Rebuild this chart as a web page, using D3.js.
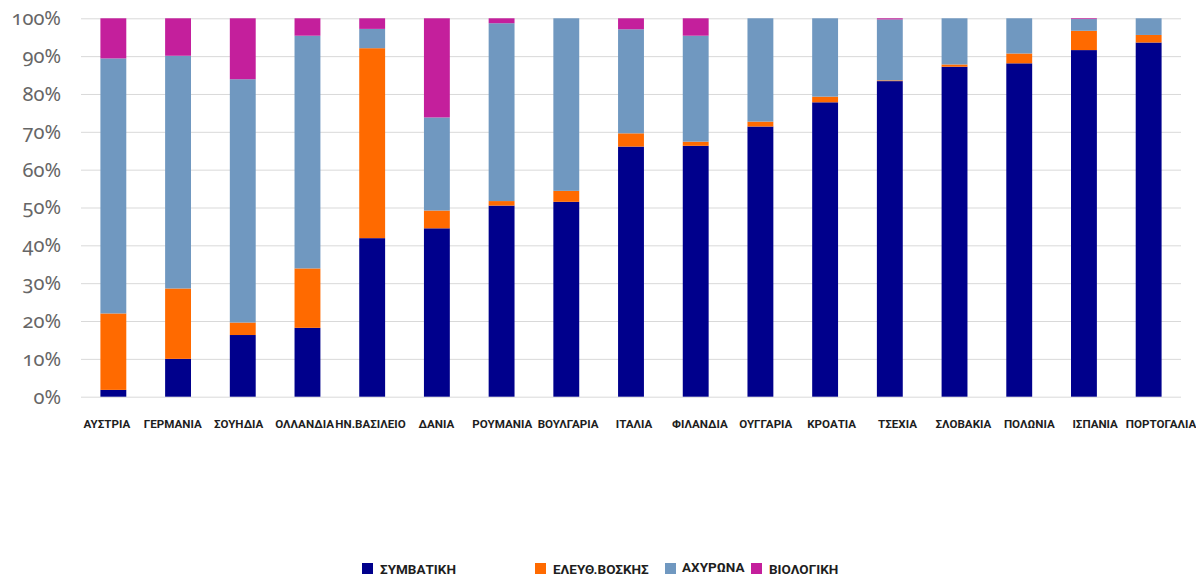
<!DOCTYPE html>
<html>
<head>
<meta charset="utf-8">
<script src="https://cdn.jsdelivr.net/npm/d3@7"></script>
<style>
  html, body { margin: 0; padding: 0; background: #ffffff; }
  svg { display: block; }
  .ylab { font-family: "Noto Sans", sans-serif; font-size: 20px; fill: #666666; font-feature-settings: "onum"; font-variant-numeric: oldstyle-nums; }
  .xlab { font-family: Roboto, "Liberation Sans", sans-serif; font-weight: bold; font-size: 11.6px; fill: #1e1e1e; }
  .leg { font-family: Roboto, "Liberation Sans", sans-serif; font-weight: bold; font-size: 13.5px; fill: #1e1e1e; }
</style>
</head>
<body>
<svg id="chart" width="1196" height="579"></svg>
<script>
// Farming system shares of laying hens per country (% of total)
const categories = ["ΑΥΣΤΡΙΑ", "ΓΕΡΜΑΝΙΑ", "ΣΟΥΗΔΙΑ", "ΟΛΛΑΝΔΙΑ", "ΗΝ.ΒΑΣΙΛΕΙΟ", "ΔΑΝΙΑ", "ΡΟΥΜΑΝΙΑ",
  "ΒΟΥΛΓΑΡΙΑ", "ΙΤΑΛΙΑ", "ΦΙΛΑΝΔΙΑ", "ΟΥΓΓΑΡΙΑ", "ΚΡΟΑΤΙΑ", "ΤΣΕΧΙΑ", "ΣΛΟΒΑΚΙΑ", "ΠΟΛΩΝΙΑ",
  "ΙΣΠΑΝΙΑ", "ΠΟΡΤΟΓΑΛΙΑ"];
const seriesNames = ["ΣΥΜΒΑΤΙΚΗ", "ΕΛΕΥΘ.ΒΟΣΚΗΣ", "ΑΧΥΡΩΝΑ", "ΒΙΟΛΟΓΙΚΗ"];
const conventional = [1.8, 10.0, 16.3, 18.2, 41.9, 44.5, 50.5, 51.5, 66.1, 66.3, 71.4, 77.8, 83.4, 87.2, 88.1, 91.6, 93.6];
const freeRange    = [20.2, 18.6, 3.3, 15.7, 50.2, 4.7, 1.2, 2.9, 3.5, 1.1, 1.3, 1.5, 0.2, 0.6, 2.6, 5.1, 2.0];
const barn         = [67.4, 61.5, 64.3, 61.5, 5.1, 24.6, 47.0, 45.6, 27.5, 28.0, 27.3, 20.7, 16.1, 12.2, 9.3, 3.1, 4.4];
const organic      = [10.6, 9.9, 16.1, 4.6, 2.8, 26.2, 1.3, 0.0, 2.9, 4.6, 0.0, 0.0, 0.3, 0.0, 0.0, 0.2, 0.0];
const yTicks = [0, 10, 20, 30, 40, 50, 60, 70, 80, 90, 100];

const colors = ["#00008c", "#ff6a00", "#7098c0", "#c41f9c"];

const rows = categories.map((c, i) => ({
  country: c,
  [seriesNames[0]]: conventional[i],
  [seriesNames[1]]: freeRange[i],
  [seriesNames[2]]: barn[i],
  [seriesNames[3]]: organic[i]
}));

const svg = d3.select("#chart");
const plot = { left: 81, right: 1181, top: 18.3, bottom: 396.7 };

const x = d3.scaleBand().domain(categories).range([plot.left, plot.right]).paddingInner(0.6).paddingOuter(0.3);
// category captions sit on a slightly wider row than the bars
const xLabel = d3.scaleBand().domain(categories).range([74, 1194]);
const y = d3.scaleLinear().domain([0, 100]).range([plot.bottom, plot.top]);
const color = d3.scaleOrdinal().domain(seriesNames).range(colors);

// horizontal gridlines
svg.append("g")
  .attr("transform", `translate(${plot.left},0)`)
  .call(d3.axisLeft(y).tickValues(yTicks).tickSize(-(plot.right - plot.left)).tickFormat(""))
  .call(g => g.select(".domain").remove())
  .call(g => g.selectAll("line").attr("stroke", "#d9d9d9").attr("stroke-width", 1));

// y tick labels
svg.append("g")
  .attr("transform", `translate(61,0)`)
  .call(d3.axisLeft(y).tickValues(yTicks).tickSize(0).tickPadding(0).tickFormat(d => d + "%"))
  .call(g => g.select(".domain").remove())
  .call(g => g.selectAll("text").attr("class", "ylab").attr("font-size", null).attr("font-family", null).attr("fill", null));

// stacked bars
const stacked = d3.stack().keys(seriesNames)(rows);
svg.append("g").selectAll("g")
  .data(stacked)
  .join("g")
  .attr("fill", d => color(d.key))
  .selectAll("rect")
  .data(d => d)
  .join("rect")
  .attr("x", d => x(d.data.country))
  .attr("width", x.bandwidth())
  .attr("y", d => y(d[1]))
  .attr("height", d => Math.max(0, y(d[0]) - y(d[1])));

// category labels
svg.append("g")
  .attr("transform", `translate(0,${plot.bottom})`)
  .call(d3.axisBottom(xLabel).tickSize(0).tickPadding(23))
  .call(g => g.select(".domain").remove())
  .call(g => g.selectAll("text").attr("class", "xlab").attr("font-size", null).attr("font-family", null).attr("fill", null));

// legend
const legendX = [362, 535, 665, 751];
const legendDy = [0, 0, -2, 0];
const legend = svg.append("g").selectAll("g")
  .data(seriesNames)
  .join("g")
  .attr("transform", (d, i) => `translate(${legendX[i]},563)`);
legend.append("rect").attr("width", 11).attr("height", 11).attr("fill", d => color(d));
legend.append("text").attr("class", "leg").attr("x", (d, i) => i === 2 ? 17 : 18).attr("y", (d, i) => 10.5 + legendDy[i]).text(d => d);
</script>
</body>
</html>
